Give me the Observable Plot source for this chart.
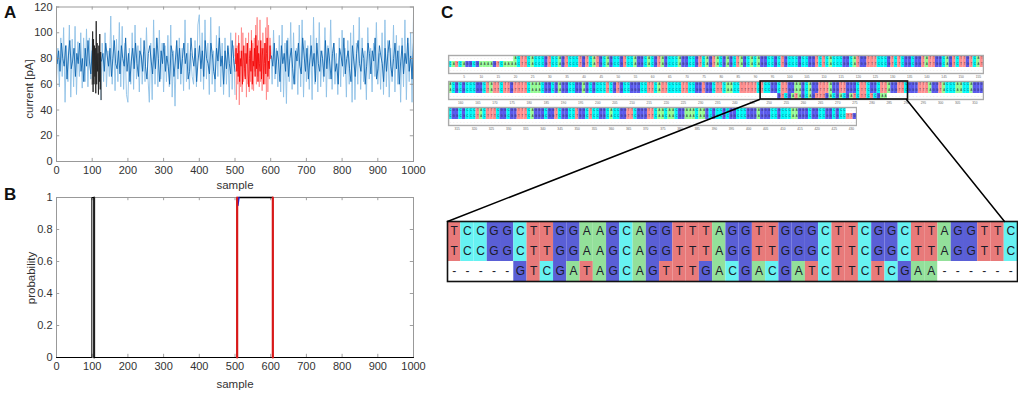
<!DOCTYPE html>
<html><head><meta charset="utf-8">
<script src="https://cdn.jsdelivr.net/npm/d3@7"></script>
<script src="https://cdn.jsdelivr.net/npm/@observablehq/plot@0.6"></script>
<style>
html,body{margin:0;padding:0;background:#fff;width:1021px;height:394px;overflow:hidden}
#root{position:relative;width:1021px;height:394px;font-family:"Liberation Sans",sans-serif}
#root svg{position:absolute;max-width:none;height:auto;background:transparent}
.tag{position:absolute;font:bold 17px "Liberation Sans",sans-serif;color:#111;line-height:17px}
</style></head><body><div id="root"></div>
<script>
// ---- Panel A: current trace
const lightA=[64,88,58,96,66,104,46,90,62,106,50,95,58,105,52,93,66,100,57,96,62,103,58,96,64,95];
const lightB=[48,92,62,100,58,86,66,113,60,98,55,95,62,108,58,105,56,92,52,46,88,60,100,56,106,64,90,54,96,60,85,62,104,66,46,92,48,110,60,96,58,102,64,92,54,90,62,98,58,106,50,86,43,90,64,96,60,88,55,110,62,92,56,84,66,60,94,58,106,114,62,100,56,110,64,92,52,112,60,86,54,98,66,105,58,92,52,96,60,88,50,100,56,90,52];
const lightC=[90,60,102,64,88,58,98,54,106,50,92,45,96,62,108,56,100,60,88,52,106,58,110,50,94,62,90,56,98,48,112,60,96,54,108,58,86,62,104,50,90,64,110,56,92,60,84,52,96,58,102,66,88,50,94,60,100,46,106,48,92,60,112,56,96,62,86,48,104,64,88,54,92,66,108,60,84,56,100,52,110,58,94,50,88,62,106,54,98,60,90,46,96,58,110,48,92,62,100,46,114];
const darkA=[76,86,70,92,80,74,90,64,82,94,72,78,88,66,84,76,92,70,80,62,88,74,94,78,68,86];
const darkB=[78,84,70,92,82,74,88,66,80,94,76,72,86,68,90,80,74,96,70,84,62,78,88,72,92,76,66,86,82,70,94,74,64,84,90,78,68,88,72,96,80,62,86,76,92,70,82,74,60,90,84,66,78,94,72,88,68,80,92,76,84,64,70,96,82,74,88,62,78,90,72,86,66,94,80,76,68,92,84,70,64,88,78,96,74,82,60,86,72,90,76,68,94,80,70];
const darkC=[82,74,92,68,86,78,62,90,76,84,70,94,66,80,88,72,60,86,78,92,74,68,96,82,70,88,64,78,90,74,84,62,92,76,70,86,80,66,94,72,88,78,64,84,92,70,76,60,88,82,74,96,68,80,86,72,62,90,78,66,84,94,76,70,88,80,60,74,92,84,68,86,78,96,64,72,90,82,76,62,88,70,84,94,74,66,80,92,72,86,60,78,90,68,84,76,96,70,82,64,92];
const blackTrace=[60,101,54,95,60,90,66,88,53,109,60,92,70,84,52,90,62,99,56,85,48];
const redLight=[82,100,48,90,60,98,44,86,58,104,54,100,62,84,66,96,50,92,60,100,54,88,62,102,56,92,55,96,70,106,60,112,66,94,58,110,62,88,55,100,68,92,60,104,48,112,54,106,64,96,84];
const redDark=[76,88,70,84,66,92,62,80,74,86,60,78,90,72,64,84,76,92,68,58,80,86,70,94,60,78,74,88,66,98,72,90,62,84,76,70,94,64,82,88,60,76,92,68,84,96,66,78,72,90,80];
// ---- Panel B: probability traces
const probSample=[0,99,99,105,105,1000];
const probBlack=[0,0,1,1,0,0];
const topSample=[510,605];
const topValue=[1,1];
const redSample1=[506,506];
const redSample2=[606,606];
const redValue=[0,1];
const thickSample=[105.5,105.5];
const blueSample=[508,511];
const blueValue=[0.95,1];
// ---- Panel C: alignment
const zoomTop="TCCGGCTTGGAAGCAGGTTTAGGTTGGGCTTCGGCTTAGGTTC";
const zoomBottom="-----GTCGATAGCAGTTTGACGACGATCTTCTCGAA------";
const strip1Chunks=["CATCAGGCGA","AAAGTCAAAA","CTTCACCCGT","CCAGTCCCTG","TCATGCAGCC","GTCCAGGCAC","GTAGCCCAGG","CCGTCAGTAC","GAGCTAGCAC","AGGCCGCTGC","CCGCCGGTCT","CACCCGGCAT","GGTTTCCCGT","CTCGGCGGTA","TTGGCAGTCT","TGTCAT"];
const strip2Head=["ACGCGCCCGG","CTATTCTTGT","TTTCAAACGG","CGAGGCCGGA","GCGCCCTCGT","GCCGGGCCTT","CATTCCCCTT","CCGGTGGCTT","CAACCTTTTT","C"];
const strip2Tail="GGGTTTAGGTACCCAACCAGGG";
const strip3Chunks=["CGGCGCCCTA","CTTTCGGCGG","TTTCAGGGCG","GTCGGCCTGG","CTCCGGCACC","GGTTCGGGTT","CAACAACGGA","AACAAGCGCC","GCGGCCCGGG","AGGGCCGCCC","AAGGGCGGCC","GGCGCCTTG"];
const leadBlank=19, tailBlank=3;
const xTicksA=[0,100,200,300,400,500,600,700,800,900,1000];
const yTicksA=[0,20,40,60,80,100,120];
const yTicksB=[0,0.2,0.4,0.6,0.8,1];
const baseZoom={T:"#e87a7a",C:"#66f2f2",G:"#5a5fd6",A:"#93e09a","-":"#ffffff"};
const baseOver={T:"#ff9090",C:"#00f8f8",G:"#5a5aec",A:"#94fb94","-":"#ffffff"};

const root=document.getElementById("root");
function place(svg,left,top){svg.style.left=left+"px";svg.style.top=top+"px";root.appendChild(svg);}
function tag(t,l,tp){const d=document.createElement("div");d.className="tag";d.textContent=t;d.style.left=l+"px";d.style.top=tp+"px";root.appendChild(d);}
const spread=(arr,a,b)=>arr.map((v,i)=>({s:a+i*(b-a)/(arr.length-1),v}));
const axisStyle={fontFamily:"Liberation Sans",fontSize:"11px",color:"#333",background:"transparent"};
const pts=(xs,ys)=>xs.map((x,i)=>({x,y:ys[i]}));

function innerTicks(xt,yt,xd,yd){
  const dy=(yd[1]-yd[0])*0.02, dx=(xd[1]-xd[0])*0.009;
  return [
    Plot.ruleX(xt,{y1:yd[0],y2:yd[0]+dy,stroke:"#888",strokeWidth:0.8}),
    Plot.ruleX(xt,{y1:yd[1],y2:yd[1]-dy,stroke:"#888",strokeWidth:0.8}),
    Plot.ruleY(yt,{x1:xd[0],x2:xd[0]+dx,stroke:"#888",strokeWidth:0.8}),
    Plot.ruleY(yt,{x1:xd[1],x2:xd[1]-dx,stroke:"#888",strokeWidth:0.8})
  ];
}
function xAxisMarks(xt,yt){
  return [
    Plot.axisX(xt,{tickSize:0,tickPadding:5,label:null,fontSize:11,color:"#333",tickFormat:d=>String(d)}),
    Plot.axisY(yt,{tickSize:0,tickPadding:4,label:null,fontSize:11,color:"#333",tickFormat:d=>String(d)})
  ];
}

// Panel A
const lineOpts=(a,stroke,w)=>Plot.line(a,{x:"s",y:"v",stroke,strokeWidth:w});
const A=Plot.plot({width:430,height:192,marginLeft:56,marginRight:17,marginTop:6.5,marginBottom:31,style:axisStyle,
  x:{domain:[0,1000],axis:null},y:{domain:[0,120],axis:null},
  marks:[
    lineOpts(spread(lightA,0,100),"#8fc1e6",0.9),lineOpts(spread(lightB,124,500),"#8fc1e6",0.9),lineOpts(spread(lightC,600,1000),"#8fc1e6",0.9),
    lineOpts(spread(darkA,2,100),"#0a62ad",0.85),lineOpts(spread(darkB,126,500),"#0a62ad",0.85),lineOpts(spread(darkC,602,1000),"#0a62ad",0.85),
    lineOpts(spread(redLight,500,600),"#ff8a8a",0.9),lineOpts(spread(redDark,501,600),"#f40000",0.8),
    lineOpts(spread(blackTrace,100,125),"#222",0.9),
    ...innerTicks(xTicksA,yTicksA,[0,1000],[0,120]),
    Plot.frame({stroke:"#999",strokeWidth:1}),
    ...xAxisMarks(xTicksA,yTicksA)
  ]});
place(A,0,0);

// Panel B
const B=Plot.plot({width:430,height:197,marginLeft:56,marginRight:17,marginTop:7,marginBottom:30,style:axisStyle,
  x:{domain:[0,1000],axis:null},y:{domain:[0,1],axis:null},
  marks:[
    ...innerTicks(xTicksA,yTicksB,[0,1000],[0,1]),
    Plot.frame({stroke:"#999",strokeWidth:1}),
    Plot.line(pts(thickSample,redValue),{x:"x",y:"y",stroke:"#3a3a3a",strokeWidth:2}),
    Plot.line(pts(probSample,probBlack),{x:"x",y:"y",stroke:"#000",strokeWidth:1}),
    Plot.line(pts(topSample,topValue),{x:"x",y:"y",stroke:"#000",strokeWidth:1.4}),
    Plot.line(pts(blueSample,blueValue),{x:"x",y:"y",stroke:"#1020e0",strokeWidth:1.6}),
    Plot.line(pts(redSample1,redValue),{x:"x",y:"y",stroke:"#d81818",strokeWidth:2.2}),
    Plot.line(pts(redSample2,redValue),{x:"x",y:"y",stroke:"#d81818",strokeWidth:2.2}),
    ...xAxisMarks(xTicksA,yTicksB)
  ]});
place(B,0,190);

// axis titles
function html(t,l,tp,rot){const d=document.createElement("div");d.textContent=t;d.style.cssText=`position:absolute;left:${l}px;top:${tp}px;font:11.5px "Liberation Sans",sans-serif;color:#333;white-space:nowrap;transform:translate(-50%,-50%)${rot?" rotate(-90deg)":""}`;root.appendChild(d);}
html("sample",235,185,false);
html("sample",235,384,false);
html("current [pA]",29,89,true);
html("probability",31,278,true);

// Overview strips
const colW=3.43;
function cells(seq,row,start){return Array.from(seq,(b,i)=>({p:start+i,row,b}));}
function strip(rows,start,n,top,extra){
  const data=rows.flatMap((s,r)=>cells(s,r,start));
  const ticks=d3.range(Math.ceil(start/5)*5,start+n,5);
  return place(Plot.plot({width:n*colW+2,height:29,marginLeft:1,marginRight:1,marginTop:1,marginBottom:10,style:{background:"transparent",fontFamily:"Liberation Sans"},
    x:{domain:[start-0.5,start+n-0.5],axis:null},y:{domain:[3,0],axis:null},
    marks:[
      Plot.rect(data,{x1:d=>d.p-0.5,x2:d=>d.p+0.5,y1:"row",y2:d=>d.row+1,fill:d=>baseOver[d.b]}),
      Plot.text(data,{x:"p",y:d=>d.row+0.5,text:"b",fontSize:2.6,fill:d=>d.b==="-"?"#aaa":"#223"}),
      Plot.frame({stroke:"#aaa",strokeWidth:1.4}),
      Plot.axisX(ticks,{tickSize:0,tickPadding:2,fontSize:3.2,color:"#666",label:null,tickFormat:d=>String(d)}),
      ...(extra||[])
    ]}),447,top);
}
const blanks=n=>"-".repeat(n);
const s1=strip1Chunks.join(""), s2h=strip2Head.join(""), s3=strip3Chunks.join("");
const s2=s2h+zoomTop+strip2Tail;
const boxStart=157+s2h.length;
strip([blanks(leadBlank)+s1.slice(leadBlank),s1,blanks(s1.length)],1,156,54);
strip([s2,s2,blanks(s2h.length)+zoomBottom+blanks(strip2Tail.length)],157,156,80,[
  Plot.rect([{a:boxStart-0.5,b:boxStart+zoomTop.length-0.5}],{x1:"a",x2:"b",y1:0,y2:3,fill:"none",stroke:"#111",strokeWidth:1.6})
]);
strip([s3.slice(0,s3.length-tailBlank)+blanks(tailBlank),s3,blanks(s3.length)],313,119,106);

// Zoomed alignment
const zoomData=[...cells(zoomTop,0,0),...cells(zoomTop,1,0),...cells(zoomBottom,2,0)];
place(Plot.plot({width:572,height:64,marginLeft:1,marginRight:1,marginTop:2,marginBottom:2,style:{background:"transparent",fontFamily:"Liberation Sans"},
  x:{domain:[0,43],axis:null},y:{domain:[3,0],axis:null},
  marks:[
    Plot.rect(zoomData,{x1:"p",x2:d=>d.p+1,y1:"row",y2:d=>d.row+1,fill:d=>baseZoom[d.b]}),
    Plot.text(zoomData,{x:d=>d.p+0.5,y:d=>d.row+0.5,text:"b",fontSize:12,fill:"#1c1c2a"}),
    Plot.frame({stroke:"#111",strokeWidth:1.6})
  ]}),446,219);

// Connectors, in page pixels
const connL=[{x:759,y:99},{x:447,y:221}], connR=[{x:906,y:99},{x:1004,y:221}];
place(Plot.plot({width:1021,height:394,margin:0,style:{background:"transparent",pointerEvents:"none"},
  x:{domain:[0,1021],axis:null},y:{domain:[394,0],axis:null},
  marks:[Plot.line(connL,{x:"x",y:"y",stroke:"#000",strokeWidth:1.5}),Plot.line(connR,{x:"x",y:"y",stroke:"#000",strokeWidth:1.5})]}),0,0);

tag("A",4,4);tag("B",4,186);tag("C",441,4);
</script></body></html>
